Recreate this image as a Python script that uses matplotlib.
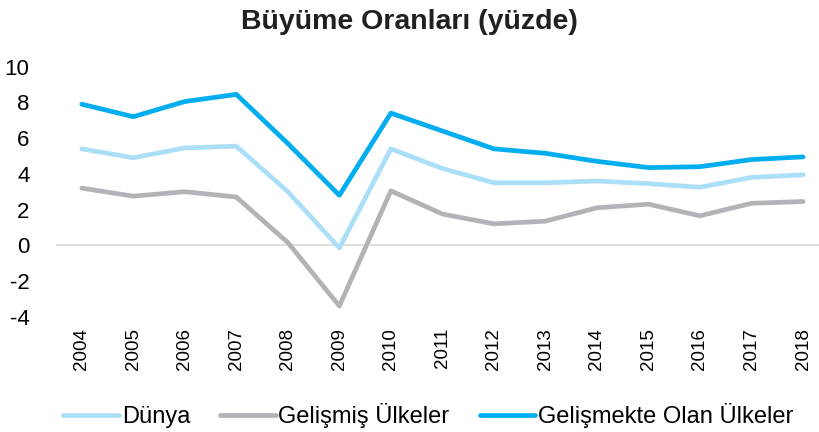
import numpy as np
import matplotlib
matplotlib.use('Agg')
from matplotlib import pyplot as plt

plt.rcParams['font.family'] = ['Liberation Sans', 'DejaVu Sans']
plt.rcParams['axes.unicode_minus'] = False

years = ['2004', '2005', '2006', '2007', '2008', '2009', '2010', '2011',
         '2012', '2013', '2014', '2015', '2016', '2017', '2018']
dunya = [5.4, 4.9, 5.45, 5.55, 3.0, -0.15, 5.4, 4.3,
         3.5, 3.5, 3.6, 3.45, 3.25, 3.8, 3.95]
gelismis = [3.2, 2.75, 3.0, 2.7, 0.15, -3.4, 3.05, 1.75,
            1.2, 1.35, 2.1, 2.3, 1.65, 2.35, 2.45]
gelismekte = [7.9, 7.2, 8.05, 8.45, 5.7, 2.8, 7.4, 6.4,
              5.4, 5.15, 4.7, 4.35, 4.4, 4.8, 4.95]

x = np.arange(len(years))

fig = plt.figure(figsize=(8.19, 4.32), dpi=100)
ax = fig.add_axes([56/819, 1-316.7/432, 1-56/819, (316.7-66.7)/432])

ax.axhline(0, color='#d9d9d9', lw=1.2, zorder=1)
ax.plot(x, dunya, color='#abdff8', lw=3.4, label='Dünya', solid_capstyle='round', zorder=3)
ax.plot(x, gelismis, color='#b1b3b6', lw=3.4, label='Gelişmiş Ülkeler', solid_capstyle='round', zorder=3)
ax.plot(x, gelismekte, color='#00aeef', lw=3.4, label='Gelişmekte Olan Ülkeler', solid_capstyle='round', zorder=3)

ax.set_xlim(-0.5, 14.31)
ax.set_ylim(-4, 10)
ax.set_yticks(range(-4, 11, 2))
ax.set_xticks(x)
ax.set_xticklabels(years, rotation=90, fontsize=13.5)
ax.tick_params(axis='y', labelsize=16, length=0, pad=19)
ax.tick_params(axis='x', length=0, pad=8)
for lab in ax.get_yticklabels():
    lab.set_horizontalalignment('right')
for s in ax.spines.values():
    s.set_visible(False)

fig.text(0.5, 0.948, 'Büyüme Oranları (yüzde)', ha='center', va='center',
         fontsize=20.5, fontweight='bold', color='#231f20')

ax.legend(loc='lower center', bbox_to_anchor=(0.5 - 0.012, -0.53), ncol=3, frameon=False,
          fontsize=17, handlelength=2.35, handletextpad=0.12, columnspacing=1.27)

fig.savefig('out.png', dpi=100)
